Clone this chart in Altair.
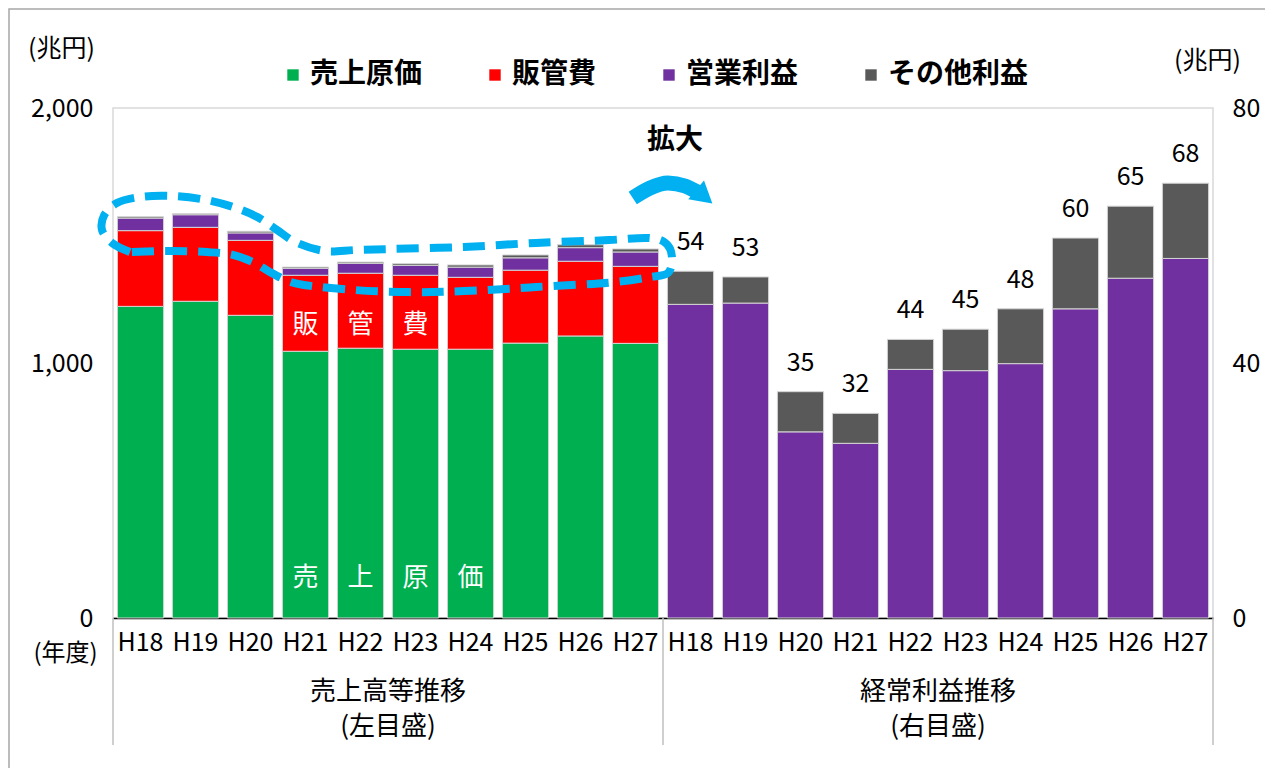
import altair as alt
import pandas as pd

FONT = "Noto Sans CJK JP"

# ---- data (兆円) ----
years = ["H18", "H19", "H20", "H21", "H22", "H23", "H24", "H25", "H26", "H27"]
cost_of_sales = [1222, 1242, 1187, 1046, 1058, 1054, 1054, 1078, 1106, 1077]
sga = [297, 290, 294, 298, 294, 290, 282, 286, 293, 302]
operating_profit = [49.2, 49.4, 29.2, 27.4, 39.0, 38.8, 39.9, 48.5, 53.3, 56.4]
other_profit = [5.2, 4.1, 6.3, 4.7, 4.7, 6.5, 8.6, 11.1, 11.3, 11.8]
ordinary_labels = [54, 53, 35, 32, 44, 45, 48, 60, 65, 68]

series_names = ["売上原価", "販管費", "営業利益", "その他利益"]
series_colors = ["#00B050", "#FF0000", "#7030A0", "#595959"]

group_titles = ["売上高等推移", "経常利益推移"]
group_subtitles = ["(左目盛)", "(右目盛)"]
group_centers = [5, 15]  # in bar-slot units

# white in-bar captions
sga_chars = ["販", "管", "費"]
sga_char_years = ["H21", "H22", "H23"]
sga_char_level = 1149
cost_chars = ["売", "上", "原", "価"]
cost_char_years = ["H21", "H22", "H23", "H24"]
cost_char_level = 157

# annotation: dashed loop around the top of the left bars (slot units, left-axis units)
loop_x = [0.31, -0.02, -0.2, -0.16, 0.07, 0.49, 1.09, 1.71, 2.18, 2.62, 2.98, 3.31, 3.85, 4.40,
          5.05, 6.38, 7.69, 9.02, 9.76, 10.0, 10.13, 10.16, 10.09, 9.76, 9.16, 7.69, 6.38, 5.38,
          4.40, 3.47, 3.22, 2.85, 2.58, 2.18, 1.71, 1.09, 0.31]
loop_y = [1435, 1471, 1522, 1580, 1627, 1651, 1655, 1639, 1612, 1573, 1522, 1475, 1439, 1443,
          1447, 1455, 1471, 1482, 1490, 1478, 1447, 1392, 1353, 1337, 1318, 1298, 1282, 1278,
          1286, 1306, 1318, 1357, 1392, 1424, 1435, 1439, 1435]
# annotation: curved arrow "拡大"
arrow_x = [9.45, 9.76, 10.09, 10.4, 10.62]
arrow_y = [1647, 1686, 1706, 1694, 1671]
arrowhead_x = [10.75]
arrowhead_y = [1652]
kakudai_x = [10.22]
kakudai_y = [1871]

# ---- tables ----
keys_left = ["L_" + y for y in years]
keys_right = ["R_" + y for y in years]
x_domain = keys_left + keys_right

rows = []
for i, y in enumerate(years):
    for j, (s, v) in enumerate(zip(series_names,
                                   [cost_of_sales[i], sga[i], operating_profit[i], other_profit[i]])):
        rows.append({"key": "L_" + y, "series": s, "value": v, "ord": j})
df_left = pd.DataFrame(rows)

rows = []
for i, y in enumerate(years):
    rows.append({"key": "R_" + y, "series": series_names[2], "value": operating_profit[i], "ord": 2})
    rows.append({"key": "R_" + y, "series": series_names[3], "value": other_profit[i], "ord": 3})
df_right = pd.DataFrame(rows)

df_lab = pd.DataFrame({
    "key": keys_right,
    "top": [operating_profit[i] + other_profit[i] for i in range(len(years))],
    "label": [str(v) for v in ordinary_labels],
})

df_chars = pd.DataFrame({
    "key": ["L_" + y for y in sga_char_years] + ["L_" + y for y in cost_char_years],
    "level": [sga_char_level] * len(sga_chars) + [cost_char_level] * len(cost_chars),
    "ch": sga_chars + cost_chars,
})

df_loop = pd.DataFrame({"x": loop_x, "y": loop_y, "i": list(range(len(loop_x)))})
df_arrow = pd.DataFrame({"x": arrow_x, "y": arrow_y})
df_head = pd.DataFrame({"x": arrowhead_x, "y": arrowhead_y})
df_kak = pd.DataFrame({"x": kakudai_x, "y": kakudai_y, "t": ["拡大"]})
df_groups = pd.DataFrame({"x": group_centers, "t1": group_titles, "t2": group_subtitles})
df_sep = pd.DataFrame({"x": [0, 10, 20]})
df_one = pd.DataFrame({"a": [0]})

# ---- scales ----
band = alt.Scale(domain=x_domain, paddingInner=0.16, paddingOuter=0.08)
left_scale = alt.Scale(domain=[0, 2000])
right_scale = alt.Scale(domain=[0, 80])
slot_scale = alt.Scale(domain=[0, 20])

legend = alt.Legend(
    orient="none", legendX=166, legendY=-47, direction="horizontal", title=None,
    symbolType="square", symbolSize=130, symbolStrokeWidth=0,
    labelFontSize=28, labelFont=FONT, labelFontWeight="bold", labelColor="black",
    columnPadding=58, labelOffset=3, labelLimit=400,
)
color = alt.Color("series:N", scale=alt.Scale(domain=series_names, range=series_colors), legend=legend)

x_axis = alt.Axis(
    labelExpr="substring(datum.value, 2)", labelAngle=0, ticks=False,
    domainColor="black", domainWidth=1.5, labelFontSize=25, labelFont=FONT,
    labelColor="black", labelPadding=12,
    title="(年度)", titleX=-48, titleY=35, titleAngle=0, titleAlign="center",
    titleBaseline="middle", titleFontSize=24, titleFont=FONT, titleFontWeight="normal",
    titleColor="black",
)

left_bars = alt.Chart(df_left).mark_bar(stroke="#d4d4d4", strokeWidth=1).encode(
    x=alt.X("key:N", scale=band, sort=x_domain, axis=x_axis),
    y=alt.Y("value:Q", stack="zero", scale=left_scale, axis=alt.Axis(
        orient="left", values=[0, 1000, 2000], format=",.0f", grid=False, ticks=False, domain=False,
        labelFontSize=25, labelFont=FONT, labelColor="black", labelPadding=20,
        title="(兆円)", titleX=-52, titleY=-60, titleAngle=0, titleAlign="center",
        titleBaseline="middle", titleFontSize=25, titleFont=FONT, titleFontWeight="normal",
        titleColor="black")),
    color=color,
    order=alt.Order("ord:Q"),
)

right_bars = alt.Chart(df_right).mark_bar(stroke="#d4d4d4", strokeWidth=1).encode(
    x=alt.X("key:N", scale=band, sort=x_domain, axis=None),
    y=alt.Y("value:Q", stack="zero", scale=right_scale, axis=alt.Axis(
        orient="right", values=[0, 40, 80], format="d", grid=False, ticks=False, domain=False,
        labelFontSize=25, labelFont=FONT, labelColor="black", labelPadding=19,
        title="(兆円)", titleX=-6, titleY=-48, titleAngle=0, titleAlign="center",
        titleBaseline="middle", titleFontSize=25, titleFont=FONT, titleFontWeight="normal",
        titleColor="black")),
    color=color,
    order=alt.Order("ord:Q"),
)

right_labels = alt.Chart(df_lab).mark_text(
    font=FONT, fontSize=25, color="black", baseline="middle", dy=-29
).encode(
    x=alt.X("key:N", scale=band, sort=x_domain, axis=None),
    y=alt.Y("top:Q", scale=right_scale, axis=None),
    text="label:N",
)

in_chars = alt.Chart(df_chars).mark_text(
    font=FONT, fontSize=26, color="white", baseline="middle"
).encode(
    x=alt.X("key:N", scale=band, sort=x_domain, axis=None),
    y=alt.Y("level:Q", scale=left_scale, axis=None),
    text="ch:N",
)

loop = alt.Chart(df_loop).mark_line(
    color="#00B0F0", strokeWidth=8, strokeDash=[22, 11], interpolate="catmull-rom", clip=False
).encode(
    x=alt.X("x:Q", scale=slot_scale, axis=None),
    y=alt.Y("y:Q", scale=left_scale, axis=None),
    order="i:Q",
)

arrow = alt.Chart(df_arrow).mark_line(
    color="#00B0F0", strokeWidth=15, interpolate="monotone", clip=False
).encode(
    x=alt.X("x:Q", scale=slot_scale, axis=None),
    y=alt.Y("y:Q", scale=left_scale, axis=None),
)

head = alt.Chart(df_head).mark_point(
    shape="triangle-right", filled=True, color="#00B0F0", size=600, angle=40, opacity=1
).encode(
    x=alt.X("x:Q", scale=slot_scale, axis=None),
    y=alt.Y("y:Q", scale=left_scale, axis=None),
)

kakudai = alt.Chart(df_kak).mark_text(
    font=FONT, fontSize=28, fontWeight="bold", color="black", baseline="middle"
).encode(
    x=alt.X("x:Q", scale=slot_scale, axis=None),
    y=alt.Y("y:Q", scale=left_scale, axis=None),
    text="t:N",
)

groups1 = alt.Chart(df_groups).mark_text(
    font=FONT, fontSize=26, color="black", baseline="middle"
).encode(
    x=alt.X("x:Q", scale=slot_scale, axis=None),
    y=alt.value(584),
    text="t1:N",
)
groups2 = alt.Chart(df_groups).mark_text(
    font=FONT, fontSize=26, color="black", baseline="middle"
).encode(
    x=alt.X("x:Q", scale=slot_scale, axis=None),
    y=alt.value(619),
    text="t2:N",
)

seps = alt.Chart(df_sep).mark_rule(color="#bfbfbf", strokeWidth=1.5).encode(
    x=alt.X("x:Q", scale=slot_scale, axis=None),
    y=alt.value(510),
    y2=alt.value(637),
)

frame = alt.Chart(df_one).mark_rect(
    fillOpacity=0, stroke="#a6a6a6", strokeWidth=1.5
).encode(
    x=alt.value(-104),
    x2=alt.value(1154),
    y=alt.value(-99),
    y2=alt.value(700),
)

chart = alt.layer(
    frame, left_bars, right_bars, right_labels, in_chars, loop, arrow, head, kakudai,
    groups1, groups2, seps,
).resolve_scale(
    x="independent", y="independent"
).properties(
    width=1100, height=510,
    autosize=alt.AutoSizeParams(type="none"),
    padding={"left": 105, "top": 100, "right": 52, "bottom": 150},
).configure(
    font=FONT, background="white"
).configure_view(
    stroke="#d9d9d9", strokeWidth=1.5
)

chart.save("out.html", embed_options={"renderer": "svg", "actions": False})
